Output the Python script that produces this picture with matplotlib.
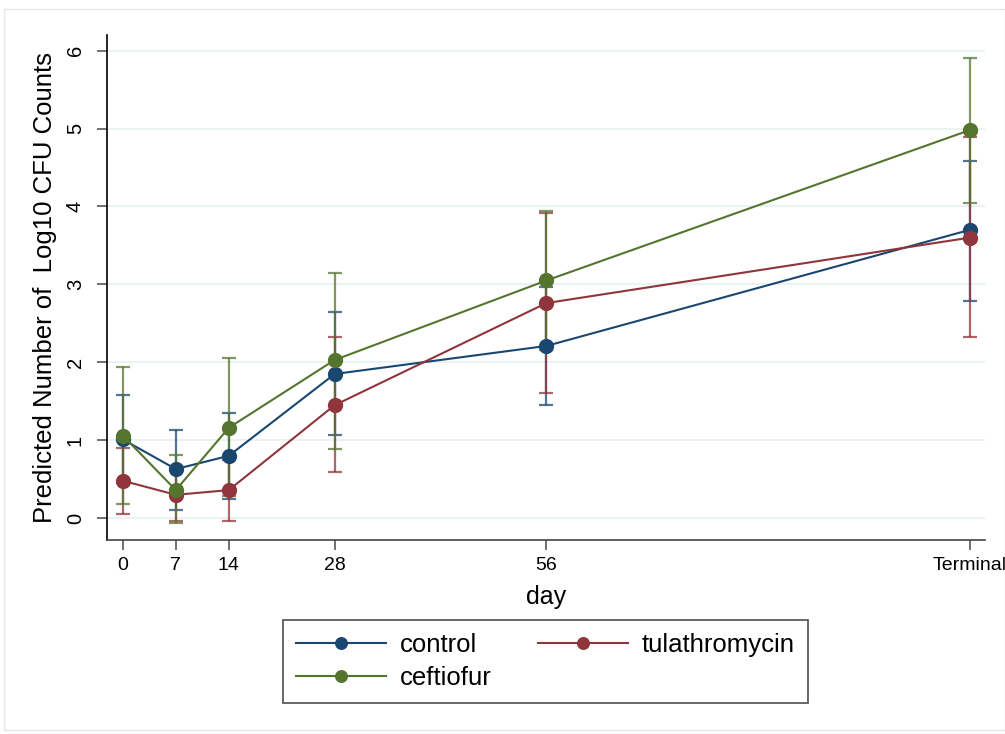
import matplotlib
matplotlib.use("Agg")
import matplotlib.pyplot as plt
from matplotlib.patches import Rectangle
import numpy as np

plt.rcParams['font.family'] = ['Liberation Sans', 'DejaVu Sans']

# x positions (days); "Terminal" placed at 112
days = [0, 7, 14, 28, 56, 112]
tick_labels = ["0", "7", "14", "28", "56", "Terminal"]

control = [1.01, 0.63, 0.80, 1.85, 2.21, 3.70]
control_lo = [0.45, 0.10, 0.25, 1.07, 1.45, 2.79]
control_hi = [1.58, 1.13, 1.35, 2.64, 2.97, 4.58]

tula = [0.48, 0.30, 0.36, 1.45, 2.76, 3.60]
tula_lo = [0.06, -0.03, -0.03, 0.59, 1.60, 2.33]
tula_hi = [0.90, 0.62, 0.75, 2.32, 3.92, 4.89]

ceft = [1.06, 0.36, 1.16, 2.03, 3.05, 4.98]
ceft_lo = [0.18, -0.06, 0.28, 0.89, 2.16, 4.04]
ceft_hi = [1.94, 0.81, 2.05, 3.14, 3.94, 5.91]

series = [
    ("control", control, control_lo, control_hi, "#1a476f"),
    ("tulathromycin", tula, tula_lo, tula_hi, "#90353b"),
    ("ceftiofur", ceft, ceft_lo, ceft_hi, "#55752f"),
]

fig = plt.figure(figsize=(10.05, 7.34), dpi=100)
fig.patches.append(Rectangle((4/1005, 4/734), 1 - 4/1005, 1 - 13/734, transform=fig.transFigure,
                             fill=False, edgecolor="#e6e6e6", linewidth=1))
ax = fig.add_axes([107/1005, 1 - 540/734, 878/1005, 505/734])

for yv in range(0, 7):
    ax.axhline(yv, color="#eaf2f3", linewidth=1.5, zorder=0)

# error bars first
for name, y, lo, hi, c in series:
    y = np.array(y); lo = np.array(lo); hi = np.array(hi)
    ax.errorbar(days, y, yerr=[y - lo, hi - y], fmt="none", ecolor=c, elinewidth=1.6,
                capsize=5, capthick=1.6, alpha=0.75, zorder=2)

handles = {}
for name, y, lo, hi, c in series:
    h, = ax.plot(days, y, color=c, linewidth=1.5, marker="o", markersize=11,
                 markeredgewidth=0, label=name, zorder=3)
    handles[name] = h

ax.set_xlim(-2.1, 114.0)
ax.set_ylim(-0.28, 6.2)
ax.set_xticks(days)
ax.set_xticklabels(tick_labels, fontsize=14)
ax.set_yticks(range(0, 7))
ax.set_yticklabels([str(i) for i in range(0, 7)], fontsize=14.5, rotation=90, va="center")
ax.tick_params(axis="both", length=7, width=1.3, color="#666666")
ax.tick_params(axis="y", pad=9)
ax.tick_params(axis="x", pad=5)
for s in ["top", "right"]:
    ax.spines[s].set_visible(False)
ax.spines["left"].set_linewidth(1.2)
ax.spines["bottom"].set_linewidth(1.2)
ax.spines["bottom"].set_color("#444444")

ax.set_xlabel("day", fontsize=18, labelpad=8)
ax.set_ylabel("Predicted Number of  Log10 CFU Counts", fontsize=18.5, labelpad=6)

order = ["control", "ceftiofur", "tulathromycin"]
leg = fig.legend(handles=[handles[n] for n in order], labels=order,
                 loc="center", bbox_to_anchor=(545.5/1005, 1 - 661.5/734), ncol=2,
                 fontsize=18.5, frameon=True, fancybox=False, edgecolor="#333333",
                 handlelength=3.5, columnspacing=1.8, borderpad=0.5, labelspacing=0.38,
                 handletextpad=0.55, markerscale=0.85, borderaxespad=0)
leg.get_frame().set_linewidth(1.3)

fig.savefig("out.png", dpi=100, facecolor="white")
